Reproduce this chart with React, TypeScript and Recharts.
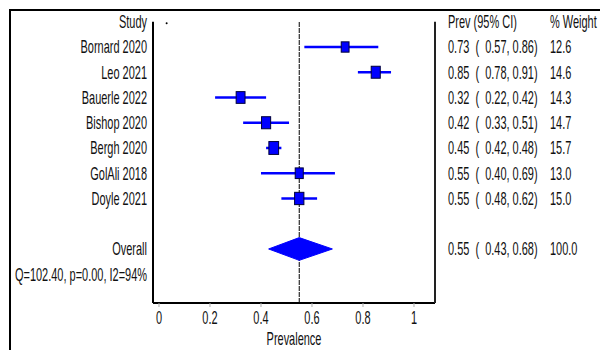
import React from 'react';
import { ScatterChart, Scatter, XAxis, YAxis, ErrorBar, ReferenceLine, ReferenceDot } from 'recharts';

// ---------- data ----------
const studies = ['Bornard 2020', 'Leo 2021', 'Bauerle 2022', 'Bishop 2020', 'Bergh 2020', 'GolAli 2018', 'Doyle 2021'];
const prev = [0.73, 0.85, 0.32, 0.42, 0.45, 0.55, 0.55];
const lower = [0.57, 0.78, 0.22, 0.33, 0.42, 0.40, 0.48];
const upper = [0.86, 0.91, 0.42, 0.51, 0.48, 0.69, 0.62];
const weights = [12.6, 14.6, 14.3, 14.7, 15.7, 13.0, 15.0];

const overallLabel = 'Overall';
const overallEst = 0.55;
const overallLower = 0.43;
const overallUpper = 0.68;
const overallWeight = 100.0;

const headerStudy = 'Study';
const headerPrev = 'Prev (95% CI)';
const headerWeight = '% Weight';
const hetText = 'Q=102.40, p=0.00, I2=94%';
const xLabel = 'Prevalence';

const xTicks = [0, 0.2, 0.4, 0.6, 0.8, 1];
const xTickLabels = ['0', '0.2', '0.4', '0.6', '0.8', '1'];

// row positions (layout)
const headerRow = 0;
const studyRows = studies.map((_, i) => i + 1);
const overallRow = 9;
const hetRow = 10;
const rowDomain = [0, 11.14];
const diamondHalf = 0.45;
const markerDot = { x: 0.03, y: 0.06 };

// ---------- derived tables ----------
const studyData = studies.map((s, i) => ({
  x: prev[i],
  y: studyRows[i],
  err: [prev[i] - lower[i], upper[i] - prev[i]],
  w: weights[i],
}));

const diamondData = [
  { x: overallLower, y: overallRow },
  { x: overallEst, y: overallRow - diamondHalf },
  { x: overallUpper, y: overallRow },
  { x: overallEst, y: overallRow + diamondHalf },
  { x: overallLower, y: overallRow },
];

const ciText = (e: number, l: number, u: number) => `${e.toFixed(2)}  (  ${l.toFixed(2)}, ${u.toFixed(2)})`;

const leftLabels: Record<number, string> = { [headerRow]: headerStudy, [overallRow]: overallLabel, [hetRow]: hetText };
studies.forEach((s, i) => (leftLabels[studyRows[i]] = s));

const rightLabels: Record<number, [string, string]> = {
  [headerRow]: [headerPrev, headerWeight],
  [overallRow]: [ciText(overallEst, overallLower, overallUpper), overallWeight.toFixed(1)],
};
studies.forEach((s, i) => (rightLabels[studyRows[i]] = [ciText(prev[i], lower[i], upper[i]), weights[i].toFixed(1)]));

const rowTicks = [headerRow, ...studyRows, overallRow, hetRow];

// ---------- styling ----------
const FONT = "'Liberation Sans', Arial, Helvetica, sans-serif";
const SX = 0.61;
const FS = 18;
const BASE = 6.5; // baseline offset from visual center

function NText({ x, y, anchor = 'start', children }: any) {
  return (
    <text
      transform={`translate(${x},${y}) scale(${SX},1)`}
      textAnchor={anchor}
      fontFamily={FONT}
      fontSize={FS}
      fill="#111"
      xmlSpace="preserve"
      style={{ whiteSpace: 'pre' }}
    >
      {children}
    </text>
  );
}

const LeftTick = (p: any) => {
  const label = leftLabels[p.payload.value];
  if (label === undefined) return <g />;
  return <NText x={p.x - 6} y={p.y + BASE} anchor="end">{label}</NText>;
};

const RightTick = (p: any) => {
  const lab = rightLabels[p.payload.value];
  if (!lab) return <g />;
  return (
    <g>
      <NText x={p.x + 13} y={p.y + BASE}>{lab[0]}</NText>
      <NText x={p.x + 115} y={p.y + BASE}>{lab[1]}</NText>
    </g>
  );
};

const XTick = (p: any) => {
  const idx = xTicks.indexOf(p.payload.value);
  return <NText x={p.x} y={p.y + 15} anchor="middle">{xTickLabels[idx]}</NText>;
};

const XLabel = (p: any) => {
  const vb = p.viewBox || {};
  return <NText x={vb.x + vb.width / 2} y={vb.y + 42} anchor="middle">{xLabel}</NText>;
};

const Square = (p: any) => {
  const w = p.payload.w * 0.62;
  const h = p.payload.w * 0.82;
  return <rect x={p.cx - w / 2} y={p.cy - h / 2} width={w} height={h} fill="#0000ff" stroke="#00003a" strokeWidth={1} />;
};

const Empty = () => <g />;

export default function App() {
  return (
    <div style={{ position: 'fixed', left: 0, top: 0, width: 600, height: 350, overflow: 'hidden', background: '#fff' }}>
      <div
        style={{
          position: 'absolute',
          left: 9,
          top: 9,
          width: 640,
          height: 400,
          borderTop: '2px solid #000',
          borderLeft: '2px solid #000',
          boxSizing: 'border-box',
        }}
      />
      <div style={{ position: 'absolute', left: 0, top: 0 }}>
        <ScatterChart width={600} height={350} margin={{ top: 21.75, right: 0, bottom: 0, left: 0 }}>
          <XAxis
            type="number"
            dataKey="x"
            domain={[-0.0235, 1.0824]}
            allowDataOverflow
            ticks={xTicks}
            interval={0}
            tickSize={4}
            tickMargin={2}
            tickLine={{ stroke: '#aaa' }}
            axisLine={{ stroke: '#000', strokeWidth: 2 }}
            height={47}
            tick={XTick}
            label={{ value: xLabel, content: XLabel }}
          />
          <YAxis
            yAxisId="left"
            type="number"
            dataKey="y"
            domain={rowDomain}
            allowDataOverflow
            reversed
            ticks={rowTicks}
            interval={0}
            tickLine={false}
            tickSize={0}
            tickMargin={0}
            width={153}
            axisLine={{ stroke: '#000', strokeWidth: 2 }}
            tick={LeftTick}
          />
          <YAxis
            yAxisId="right"
            orientation="right"
            type="number"
            domain={rowDomain}
            allowDataOverflow
            reversed
            ticks={rowTicks}
            interval={0}
            tickLine={false}
            tickSize={0}
            tickMargin={0}
            width={165}
            axisLine={{ stroke: '#222', strokeWidth: 2 }}
            tick={RightTick}
          />
          <ReferenceLine yAxisId="left" x={overallEst} stroke="#000" strokeWidth={1} strokeDasharray="5 1" />
          <ReferenceDot yAxisId="left" x={markerDot.x} y={markerDot.y} r={1} fill="#000" stroke="none" />
          <Scatter
            yAxisId="left"
            data={diamondData}
            fill="#0000ff"
            line={{ fill: '#0000ff', stroke: '#0000ff', strokeWidth: 1 }}
            lineType="joint"
            lineJointType="linear"
            shape={Empty}
            isAnimationActive={false}
          />
          <Scatter yAxisId="left" data={studyData} fill="#0000ff" shape={Square} isAnimationActive={false}>
            <ErrorBar dataKey="err" direction="x" width={0} stroke="#0000ff" strokeWidth={2.5} isAnimationActive={false} />
          </Scatter>
        </ScatterChart>
      </div>
    </div>
  );
}
